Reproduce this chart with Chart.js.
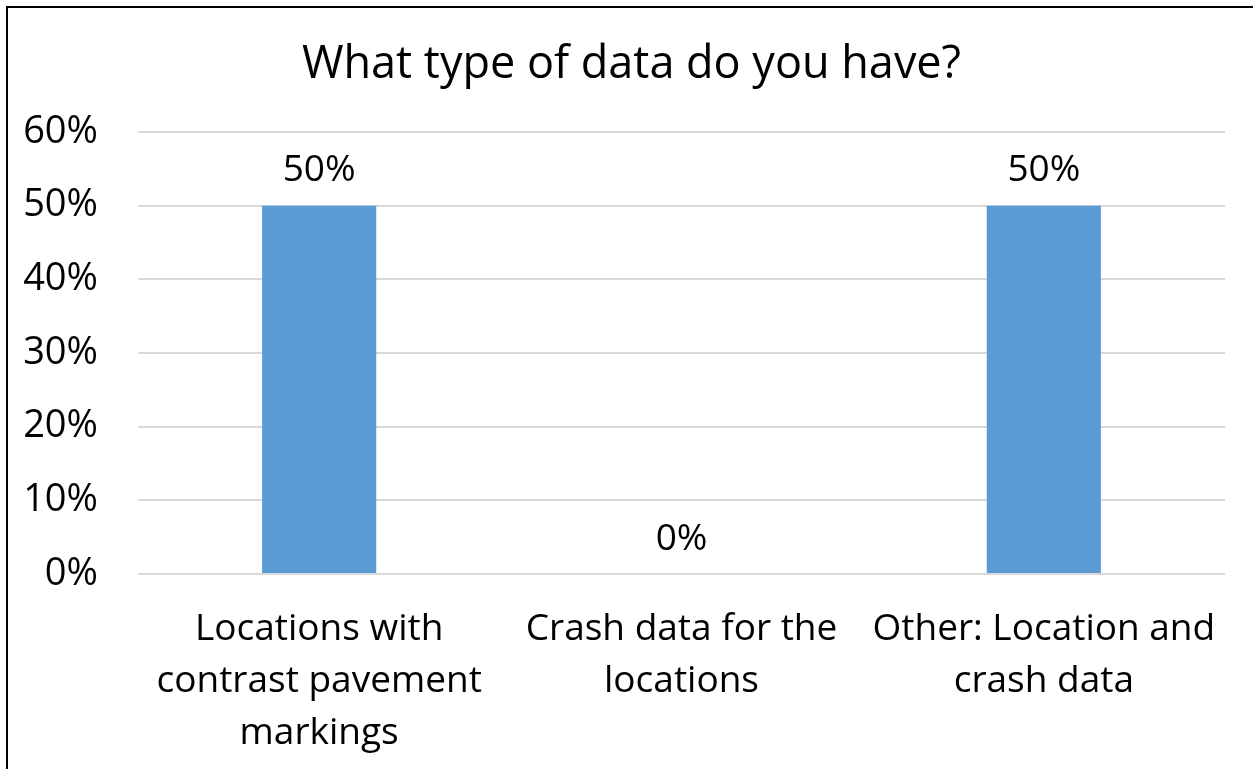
<!DOCTYPE html>
<html>
<head>
<meta charset="utf-8">
<title>What type of data do you have?</title>
<script src="https://cdn.jsdelivr.net/npm/chart.js@4"></script>
<style>
  html, body { margin: 0; padding: 0; background: #fff; overflow: hidden; }
  #frame {
    position: absolute; left: 6px; top: 6px;
    width: 1400px; height: 900px;
    border-left: 2.5px solid #000; border-top: 2.5px solid #000;
    box-sizing: border-box;
  }
  #wrap { position: absolute; left: 0; top: 0; width: 1253px; height: 769px; }
</style>
</head>
<body>
<div id="frame"></div>
<div id="wrap"><canvas id="chart"></canvas></div>
<script>
// DATA
const categories = [
  ['Locations with', 'contrast pavement', 'markings'],
  ['Crash data for the', 'locations'],
  ['Other: Location and', 'crash data']
];
const shares = [50, 0, 50];
const yTicks = [0, 10, 20, 30, 40, 50, 60];

const FONT = '"Open Sans", Calibri, sans-serif';

// value labels above each bar
const valueLabels = {
  id: 'valueLabels',
  afterDatasetsDraw(chart) {
    const ctx = chart.ctx;
    const meta = chart.getDatasetMeta(0);
    ctx.save();
    ctx.font = '37px ' + FONT;
    ctx.fillStyle = '#000';
    ctx.textAlign = 'center';
    ctx.textBaseline = 'middle';
    meta.data.forEach((bar, i) => {
      ctx.fillText(shares[i] + '%', bar.x, bar.y - 35);
    });
    ctx.restore();
  }
};

new Chart(document.getElementById('chart'), {
  type: 'bar',
  data: {
    labels: categories,
    datasets: [{
      data: shares,
      backgroundColor: '#5B9BD5',
      categoryPercentage: 1,
      barPercentage: 0.315
    }]
  },
  options: {
    responsive: true,
    maintainAspectRatio: false,
    animation: false,
    layout: { padding: { left: 10, right: 0, top: 38, bottom: 0 } },
    plugins: {
      legend: { display: false },
      tooltip: { enabled: false },
      title: {
        display: true,
        text: 'What type of data do you have?',
        color: '#000',
        font: { family: FONT, size: 45, weight: 'normal' },
        padding: { top: 0, bottom: 40 }
      }
    },
    scales: {
      x: {
        grid: { display: false },
        border: { display: false },
        ticks: {
          color: '#000',
          font: { family: FONT, size: 37, lineHeight: 1.4 },
          maxRotation: 0,
          autoSkip: false,
          padding: 22
        },
        afterFit(scale) { scale.height = 769 - 574; }
      },
      y: {
        min: 0,
        max: 60,
        afterBuildTicks(scale) { scale.ticks = yTicks.map(v => ({ value: v })); },
        grid: { color: '#D9D9D9', lineWidth: 2, drawTicks: false },
        border: { display: false },
        ticks: {
          color: '#000',
          font: { family: FONT, size: 38 },
          padding: 40,
          callback: v => v + '%'
        },
        afterFit(scale) { scale.width = 128; }
      },
      // empty right-hand spacer so the plot ends where the reference does
      yRight: {
        position: 'right',
        min: 0,
        max: 60,
        grid: { display: false },
        border: { display: false },
        ticks: { display: false },
        afterFit(scale) { scale.width = 28; }
      }
    }
  },
  plugins: [valueLabels]
});
</script>
</body>
</html>
